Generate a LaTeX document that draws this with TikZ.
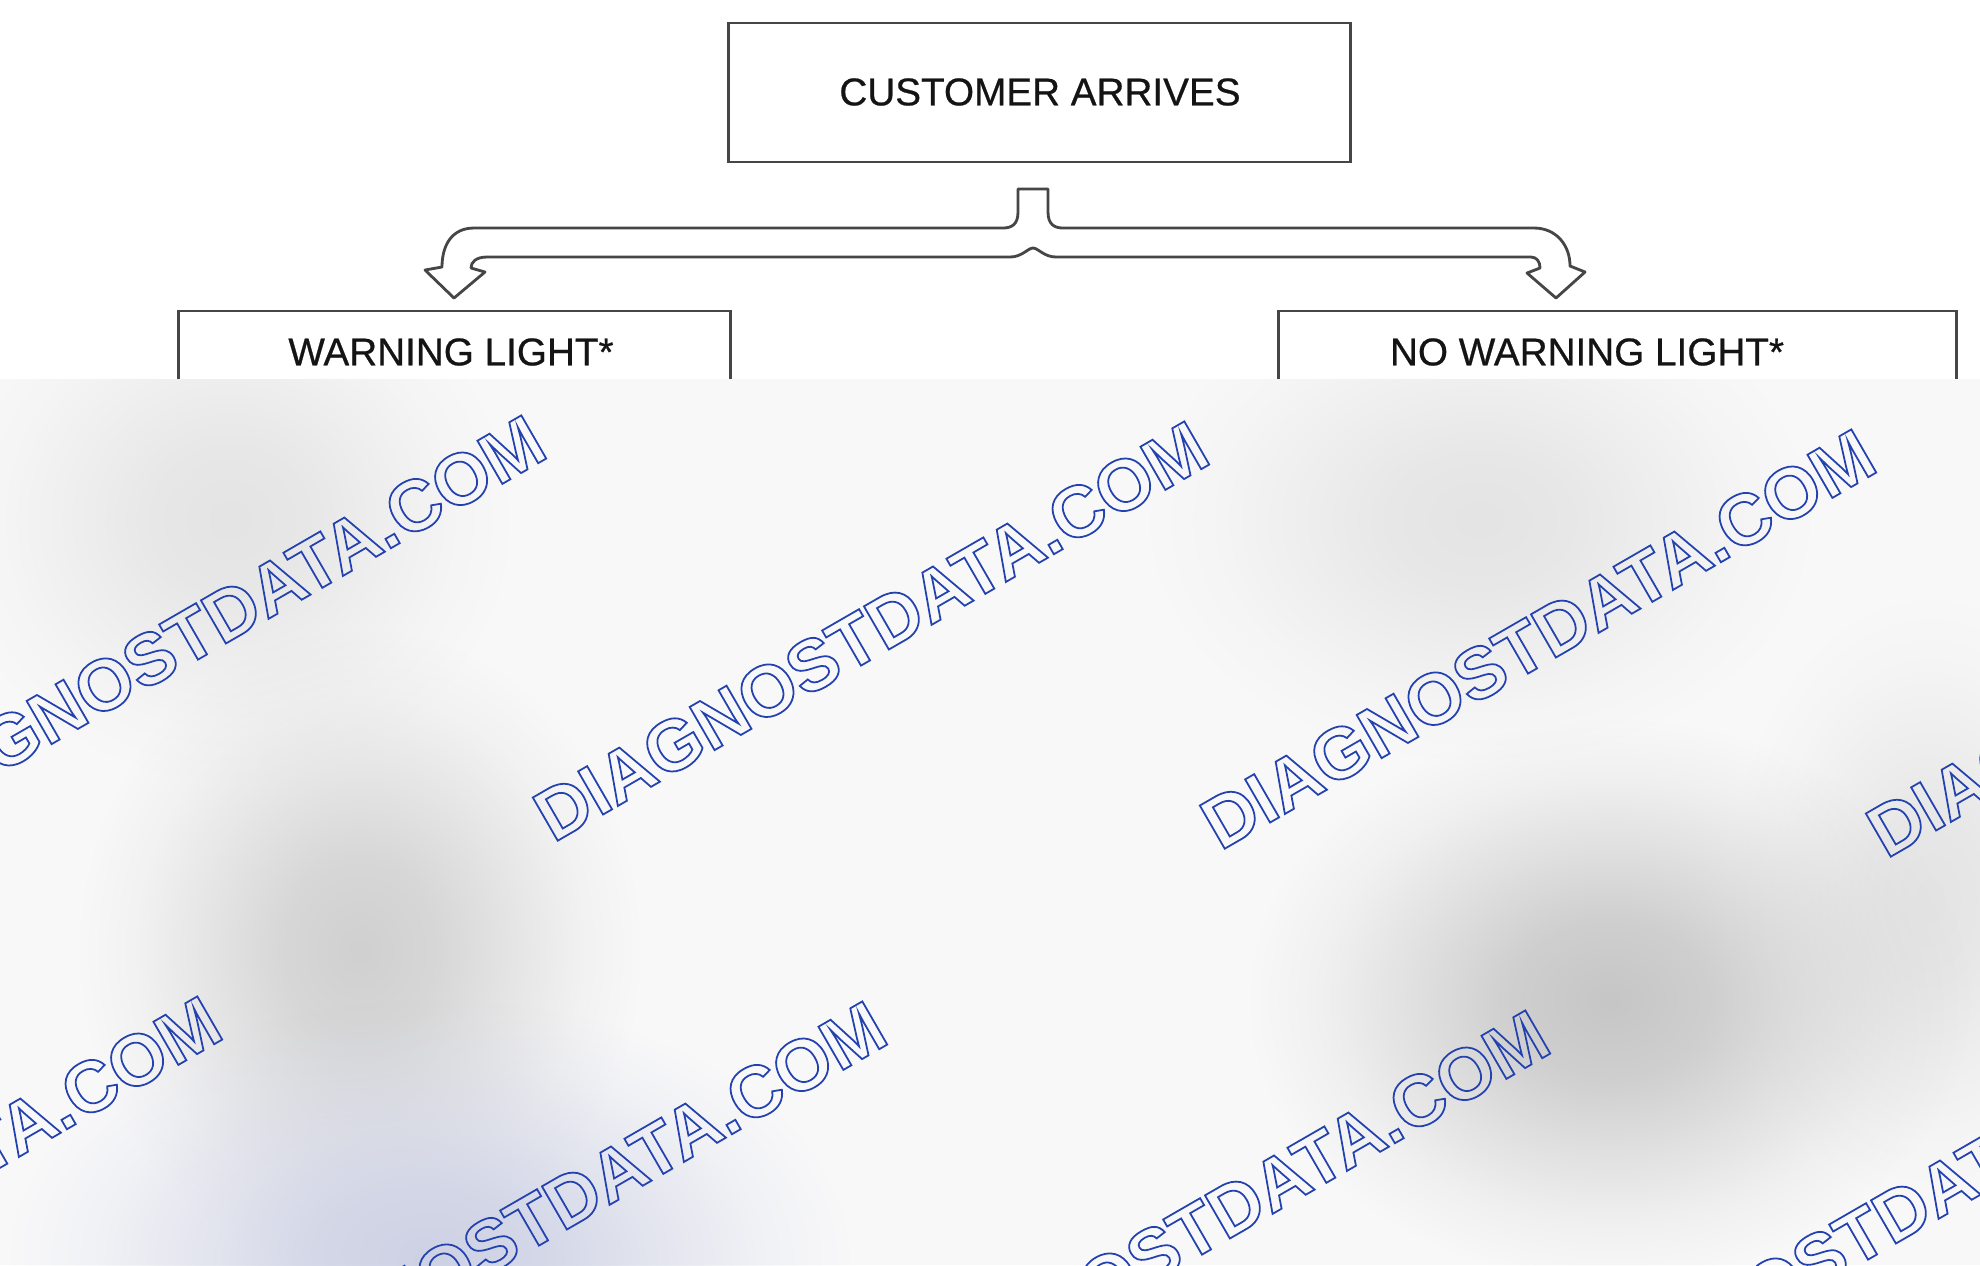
\documentclass[tikz,border=0pt]{standalone}
\usepackage{fontspec}
\setmainfont{Liberation Sans}
\newfontfamily\lblfont[FakeBold=0.6]{Liberation Sans}
\usetikzlibrary{fadings}
\definecolor{bgc}{RGB}{248,248,249}
\definecolor{linec}{RGB}{70,70,70}
\definecolor{wmblue}{RGB}{35,65,175}
\definecolor{txtc}{RGB}{20,20,20}
\definecolor{blobgrey}{RGB}{208,208,208}
\definecolor{blobdark}{RGB}{198,198,198}
\definecolor{blobblue}{RGB}{205,209,228}
\definecolor{blobpale}{RGB}{228,228,228}
\pgfdeclareradialshading{softblobshade}{\pgfpointorigin}{color(0bp)=(pgftransparent!0); color(7bp)=(pgftransparent!18); color(14bp)=(pgftransparent!55); color(20bp)=(pgftransparent!85); color(25bp)=(pgftransparent!100); color(50bp)=(pgftransparent!100)}
\pgfdeclarefading{softblob}{\pgfuseshading{softblobshade}}
\newcommand\outlinetext[1]{\special{pdf:literal direct 1 Tr 0.5 w}#1\special{pdf:literal direct 0 Tr}}
\tikzset{
  box/.style={draw=linec, line width=0.8pt, fill=white, inner sep=0pt},
  lbl/.style={text=txtc, font=\lblfont\fontsize{11}{13}\selectfont, inner sep=0pt},
  wm/.style={text=wmblue, font=\fontsize{20.6}{22}\selectfont\bfseries, inner sep=0pt, rotate=30},
  branch/.style={draw=linec, line width=0.8pt, fill=white, line join=round},
  blob/.style={fill=#1, path fading=softblob}
}
\begin{document}
\begin{tikzpicture}[x=0.01cm,y=-0.01cm]
\useasboundingbox (0,0) rectangle (1980,1265);
\fill[white] (0,0) rectangle (1980,1265);
% flowchart
\node[box, minimum width=6.21cm, minimum height=1.39cm] (arrive) at (1039.5,92.5) {};
\node[lbl] (arrivetxt) at (1040,92) {CUSTOMER ARRIVES};
\node[box, minimum width=5.51cm, minimum height=0.82cm] (warn) at (454.5,352) {};
\node[lbl] (warntxt) at (451,352) {WARNING LIGHT*};
\node[box, minimum width=6.77cm, minimum height=0.82cm] (nowarn) at (1617.5,352) {};
\node[lbl] (nowarntxt) at (1587,352) {NO WARNING LIGHT*};
% branching double arrow
\draw[branch] (1018,189) -- (1048,189) -- (1048,212)
  .. controls (1048,224) and (1054,228) .. (1063,228) -- (1534,228)
  .. controls (1556,228) and (1570,245) .. (1570,266)
  -- (1585,272) -- (1556,298) -- (1527,273) -- (1540,268)
  .. controls (1540,262) and (1537,257) .. (1531,257) -- (1056,257)
  .. controls (1044,257) and (1038,248) .. (1033,248)
  .. controls (1028,248) and (1022,257) .. (1010,257) -- (487,257)
  .. controls (476,257) and (471,262) .. (471,268)
  -- (485,272) -- (454,298) -- (425,270) -- (442,267)
  .. controls (442,245) and (452,228) .. (474,228) -- (1003,228)
  .. controls (1012,228) and (1018,224) .. (1018,212) -- cycle;
% blurred lower part
\begin{scope}
\clip (0,379) rectangle (1980,1265);
\fill[bgc] (0,379) rectangle (1980,1265);
\fill[blob=blobpale] (230,520) ellipse (280 and 260);
\fill[blob=blobpale] (1480,520) ellipse (330 and 240);
\fill[blob=blobpale] (1930,900) ellipse (200 and 300);
\fill[blob=blobgrey] (360,950) ellipse (280 and 320);
\fill[blob=blobdark] (1610,1000) ellipse (360 and 280);
\fill[blob=blobblue] (430,1260) ellipse (420 and 260);
\end{scope}
% watermarks
\node[wm] (wm1) at (208,625) {\outlinetext{DIAGNOSTDATA.COM}};
\node[wm] (wm2) at (871,631) {\outlinetext{DIAGNOSTDATA.COM}};
\node[wm] (wm3) at (1538,639) {\outlinetext{DIAGNOSTDATA.COM}};
\node[wm] (wm4) at (2204,647) {\outlinetext{DIAGNOSTDATA.COM}};
\node[wm] (wm5) at (-116,1206) {\outlinetext{DIAGNOSTDATA.COM}};
\node[wm] (wm6) at (549,1211) {\outlinetext{DIAGNOSTDATA.COM}};
\node[wm] (wm7) at (1212,1220) {\outlinetext{DIAGNOSTDATA.COM}};
\node[wm] (wm8) at (1878,1225) {\outlinetext{DIAGNOSTDATA.COM}};
\end{tikzpicture}
\end{document}
